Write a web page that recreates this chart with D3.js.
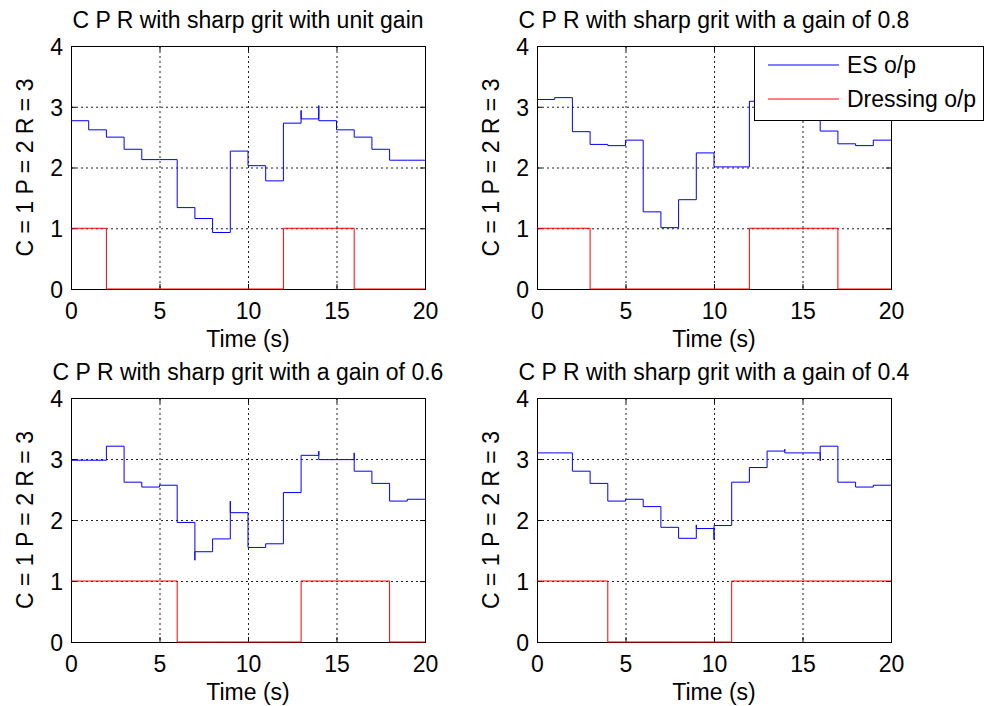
<!DOCTYPE html>
<html lang="en">
<head>
<meta charset="UTF-8">
<title>C P R with sharp grit</title>
<script src="https://d3js.org/d3.v7.min.js"></script>
<style>
    body { margin: 0; padding: 0; background: #fff; }
    svg { display: block; font-family: 'Liberation Sans', Arial, sans-serif; }
    .tick text { font-size: 23px; fill: #000; }
    .label { font-size: 23px; fill: #000; }
</style>
</head>
<body>
<svg id="chart" width="990" height="706"></svg>
<script>
    // Panel titles
    const titles = [
        "C P R with sharp grit with unit gain",
        "C P R with sharp grit with a gain of 0.8",
        "C P R with sharp grit with a gain of 0.6",
        "C P R with sharp grit with a gain of 0.4"
    ];
    const timeTicks = [0, 5, 10, 15, 20];
    const levelTicks = [0, 1, 2, 3, 4];

    // ES output level held over each second (0-1, 1-2, ... 19-20)
    const esUnit = [2.77, 2.62, 2.50, 2.30, 2.13, 2.13, 1.34, 1.16, 0.93, 2.27,
                    2.03, 1.78, 2.73, 2.80, 2.77, 2.62, 2.50, 2.30, 2.12, 2.12];
    const esGain08 = [3.12, 3.15, 2.59, 2.38, 2.36, 2.45, 1.27, 1.01, 1.47, 2.24,
                      2.01, 2.01, 3.09, 3.12, 3.12, 3.15, 2.60, 2.39, 2.36, 2.45];
    const esGain06 = [2.98, 2.98, 3.21, 2.62, 2.54, 2.57, 1.96, 1.48, 1.69, 2.12,
                      1.55, 1.61, 2.45, 3.06, 2.99, 2.99, 2.80, 2.60, 2.31, 2.34];
    const esGain04 = [3.10, 3.10, 2.80, 2.60, 2.31, 2.34, 2.22, 1.88, 1.70, 1.86,
                      1.91, 2.62, 2.86, 3.13, 3.10, 3.10, 3.21, 2.62, 2.54, 2.57];

    // short transients at a switching instant: [time, value]
    const spikesUnit = [[13, 2.94], [14, 3.02]];
    const spikesGain08 = [];
    const spikesGain06 = [[7, 1.34], [9, 2.31], [14, 3.13], [16, 3.10]];
    const spikesGain04 = [[9, 1.92], [10, 1.68], [14, 3.16], [16, 2.97]];

    // Dressing output per second
    const dressUnit = [1, 1, 0, 0, 0, 0, 0, 0, 0, 0, 0, 0, 1, 1, 1, 1, 0, 0, 0, 0];
    const dressGain08 = [1, 1, 1, 0, 0, 0, 0, 0, 0, 0, 0, 0, 1, 1, 1, 1, 1, 0, 0, 0];
    const dressGain06 = [1, 1, 1, 1, 1, 1, 0, 0, 0, 0, 0, 0, 0, 1, 1, 1, 1, 1, 0, 0];
    const dressGain04 = [1, 1, 1, 1, 0, 0, 0, 0, 0, 0, 0, 1, 1, 1, 1, 1, 1, 1, 1, 1];

    const legendLabels = ["ES o/p", "Dressing o/p"];
    const colors = ["#0000ff", "#ff0000"];

    const panels = [
        { title: titles[0], es: esUnit, spikes: spikesUnit, dress: dressUnit, x0: 71, x1: 425, y0: 46, y1: 289 },
        { title: titles[1], es: esGain08, spikes: spikesGain08, dress: dressGain08, x0: 537, x1: 891, y0: 46, y1: 289 },
        { title: titles[2], es: esGain06, spikes: spikesGain06, dress: dressGain06, x0: 71, x1: 425, y0: 398, y1: 642 },
        { title: titles[3], es: esGain04, spikes: spikesGain04, dress: dressGain04, x0: 537, x1: 891, y0: 398, y1: 642 }
    ];

    // turn per-second levels into the vertices of a step trace
    function stepPoints(levels, spikes) {
        const pts = [];
        const spikeAt = new Map(spikes.map(d => [d[0], d[1]]));
        levels.forEach((v, i) => {
            if (spikeAt.has(i)) pts.push([i, spikeAt.get(i)]);
            pts.push([i, v]);
            pts.push([i + 1, v]);
        });
        return pts;
    }

    const svg = d3.select("#chart");

    panels.forEach(p => {
        const x = d3.scaleLinear().domain([0, 20]).range([p.x0, p.x1]);
        const y = d3.scaleLinear().domain([0, 4]).range([p.y1, p.y0]);
        const g = svg.append("g");

        // grid
        g.append("g").selectAll("line").data(timeTicks.slice(1, -1)).join("line")
            .attr("x1", d => x(d) + 0.5).attr("x2", d => x(d) + 0.5)
            .attr("y1", p.y0).attr("y2", p.y1)
            .attr("stroke", "#222").attr("stroke-dasharray", "2,3");
        g.append("g").selectAll("line").data(levelTicks.slice(1, -1)).join("line")
            .attr("y1", d => y(d) + 0.5).attr("y2", d => y(d) + 0.5)
            .attr("x1", p.x0).attr("x2", p.x1)
            .attr("stroke", "#222").attr("stroke-dasharray", "2,3");

        // axes
        g.append("g")
            .attr("transform", `translate(0,${p.y1})`)
            .call(d3.axisBottom(x).tickValues(timeTicks).tickFormat(d3.format("d"))
                .tickSizeInner(-5).tickSizeOuter(0).tickPadding(14))
            .call(a => a.select(".domain").remove());
        g.append("g")
            .attr("transform", `translate(${p.x0},0)`)
            .call(d3.axisLeft(y).tickValues(levelTicks).tickFormat(d3.format("d"))
                .tickSizeInner(-5).tickSizeOuter(0).tickPadding(8))
            .call(a => a.select(".domain").remove())
            .call(a => a.selectAll(".tick text").attr("dy", "0.36em"));
        g.append("g")
            .attr("transform", `translate(0,${p.y0})`)
            .call(d3.axisTop(x).tickValues(timeTicks).tickSizeInner(-5).tickSizeOuter(0).tickFormat(""))
            .call(a => a.select(".domain").remove());
        g.append("g")
            .attr("transform", `translate(${p.x1},0)`)
            .call(d3.axisRight(y).tickValues(levelTicks).tickSizeInner(-5).tickSizeOuter(0).tickFormat(""))
            .call(a => a.select(".domain").remove());

        g.append("rect")
            .attr("x", p.x0 + 0.5).attr("y", p.y0 + 0.5)
            .attr("width", p.x1 - p.x0).attr("height", p.y1 - p.y0)
            .attr("fill", "none").attr("stroke", "#000");

        const line = d3.line().x(d => x(d[0])).y(d => y(d[1]));

        g.append("path")
            .datum(stepPoints(p.dress, []))
            .attr("fill", "none").attr("stroke", colors[1]).attr("stroke-width", 1)
            .attr("d", line);
        g.append("path")
            .datum(stepPoints(p.es, p.spikes))
            .attr("fill", "none").attr("stroke", colors[0]).attr("stroke-width", 1)
            .attr("d", line);

        // labels
        g.append("text").attr("class", "label")
            .attr("x", (p.x0 + p.x1) / 2).attr("y", p.y0 - 18)
            .attr("text-anchor", "middle").text(p.title);
        g.append("text").attr("class", "label")
            .attr("x", (p.x0 + p.x1) / 2).attr("y", p.y1 + 58)
            .attr("text-anchor", "middle").text("Time (s)");
        g.append("text").attr("class", "label")
            .attr("transform", `translate(${p.x0 - 46},${(p.y0 + p.y1) / 2}) rotate(-90)`)
            .attr("text-anchor", "middle").attr("dy", "0.36em")
            .text("C = 1 P = 2 R = 3");
    });

    // legend on the top right panel
    const legend = svg.append("g").attr("transform", "translate(754,46)");
    legend.append("rect")
        .attr("x", 0.5).attr("y", 0.5).attr("width", 229).attr("height", 74)
        .attr("fill", "#fff").attr("stroke", "#000");
    legendLabels.forEach((t, i) => {
        const ly = 19 + i * 34;
        legend.append("line")
            .attr("x1", 14).attr("x2", 85).attr("y1", ly).attr("y2", ly)
            .attr("stroke", colors[i]);
        legend.append("text").attr("class", "label")
            .attr("x", 93).attr("y", ly).attr("dy", "0.36em").text(t);
    });
</script>
</body>
</html>
